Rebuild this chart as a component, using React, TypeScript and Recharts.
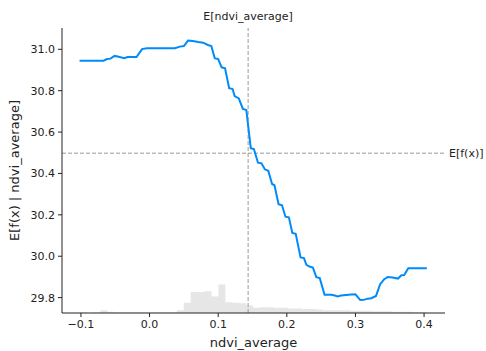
import { ComposedChart, Line, Area, XAxis, YAxis, ReferenceLine } from "recharts";

// partial dependence curve (ndvi_average -> E[f(x)])
const lineX = [
  -0.102, -0.067, -0.062, -0.057, -0.051, -0.045, -0.037, -0.032, -0.019, -0.011,
  -0.004, 0.037, 0.044, 0.05, 0.056, 0.063, 0.071, 0.078, 0.085, 0.09,
  0.095, 0.1, 0.105, 0.11, 0.116, 0.121, 0.124, 0.13, 0.136, 0.141,
  0.1475, 0.152, 0.158, 0.163, 0.168, 0.173, 0.1785, 0.182, 0.188, 0.193,
  0.198, 0.203, 0.208, 0.213, 0.22, 0.225, 0.2285, 0.233, 0.238, 0.243,
  0.248, 0.255, 0.265, 0.27, 0.274, 0.279, 0.294, 0.3, 0.307, 0.312,
  0.318, 0.323, 0.33, 0.336, 0.342, 0.347, 0.354, 0.362, 0.367, 0.371,
  0.377, 0.404,
];
const lineY = [
  30.945, 30.945, 30.953, 30.955, 30.968, 30.964, 30.957, 30.963, 30.963, 31.001,
  31.005, 31.005, 31.013, 31.016, 31.042, 31.04, 31.035, 31.032, 31.021, 31.016,
  30.957, 30.953, 30.913, 30.908, 30.812, 30.808, 30.774, 30.763, 30.712, 30.707,
  30.522, 30.518, 30.452, 30.449, 30.42, 30.413, 30.349, 30.343, 30.251, 30.246,
  30.191, 30.188, 30.112, 30.108, 29.994, 29.991, 29.958, 29.95, 29.945, 29.899,
  29.894, 29.814, 29.814, 29.81, 29.806, 29.81, 29.815, 29.816, 29.788, 29.789,
  29.795, 29.797, 29.808, 29.865, 29.889, 29.9, 29.897, 29.892, 29.908, 29.909,
  29.942, 29.942,
];

// feature histogram (50 bins over the feature range)
const histMin = -0.102;
const histMax = 0.404;
const histCounts = [
  1, 0, 1, 5, 2, 1, 1, 1, 1, 1, 1, 1, 1, 1, 5, 18, 37, 37, 38, 29,
  50, 19, 18, 17, 13, 9, 10, 10, 9, 9, 8, 8, 7, 7, 6, 5, 5, 5, 5, 4,
  4, 4, 3, 3, 3, 2, 2, 2, 1, 1,
];
const histTotal = 500;

const xTicks = [-0.1, 0.0, 0.1, 0.2, 0.3, 0.4];
const yTicks = [29.8, 30.0, 30.2, 30.4, 30.6, 30.8, 31.0];
const expectedValue = 30.498;
const featureMean = 0.1436;

const binWidth = (histMax - histMin) / histCounts.length;
const histRows: { x: number; h?: number; y?: number }[] = histCounts.map((c, i) => ({
  x: histMin + i * binWidth,
  h: c,
}));
histRows.push({ x: histMax, h: histCounts[histCounts.length - 1] });
const lineRows = lineX.map((x, i) => ({ x, y: lineY[i] }));
const data = [...histRows, ...lineRows].sort((a, b) => a.x - b.x);

const fmt = (v: number) => v.toFixed(1).replace("-", "\u2212");

const axisColor = "#222222";
const textColor = "#222222";

export default function App() {
  return (
    <div style={{ position: "absolute", left: 0, top: 0, width: 486, height: 351, background: "#fff" }}>
      <ComposedChart
        width={486}
        height={351}
        data={data}
        margin={{ top: 28, right: 41, left: 0, bottom: 0 }}
        style={{ fontFamily: "DejaVu Sans" }}
      >
        <XAxis
          dataKey="x"
          type="number"
          domain={[-0.1276, 0.4305]}
          allowDataOverflow
          ticks={xTicks}
          tickFormatter={fmt}
          height={38}
          tickSize={4}
          tickMargin={3}
          axisLine={{ stroke: axisColor }}
          tickLine={{ stroke: axisColor }}
          tick={{ fill: textColor, fontSize: 11 }}
          label={{ value: "ndvi_average", position: "insideBottom", offset: 4, fill: textColor, fontSize: 13 }}
        />
        <YAxis
          yAxisId="left"
          type="number"
          domain={[29.7256, 31.103]}
          allowDataOverflow
          ticks={yTicks}
          tickFormatter={fmt}
          width={62}
          tickSize={4}
          tickMargin={3}
          axisLine={{ stroke: axisColor }}
          tickLine={{ stroke: axisColor }}
          tick={{ fill: textColor, fontSize: 11 }}
          label={{
            value: "E[f(x) | ndvi_average]",
            angle: -90,
            position: "insideLeft",
            offset: 14,
            fill: textColor,
            fontSize: 13,
            style: { textAnchor: "middle" },
          }}
        />
        <YAxis yAxisId="hist" orientation="right" hide domain={[0, histTotal]} />

        <Area
          yAxisId="hist"
          dataKey="h"
          type="stepAfter"
          fill="#e6e6e6"
          fillOpacity={1}
          stroke="none"
          connectNulls
          isAnimationActive={false}
        />
        <ReferenceLine
          yAxisId="left"
          x={featureMean}
          stroke="#999999"
          strokeDasharray="4 2"
          label={{ value: "E[ndvi_average]", position: "top", offset: 8, fill: textColor, fontSize: 11 }}
        />
        <ReferenceLine
          yAxisId="left"
          y={expectedValue}
          stroke="#999999"
          strokeDasharray="4 2"
          label={{ value: "E[f(x)]", position: "right", offset: 4, fill: textColor, fontSize: 11 }}
        />
        <Line
          yAxisId="left"
          dataKey="y"
          type="linear"
          stroke="#008bfb"
          strokeWidth={2}
          dot={false}
          connectNulls
          isAnimationActive={false}
        />
      </ComposedChart>
    </div>
  );
}
